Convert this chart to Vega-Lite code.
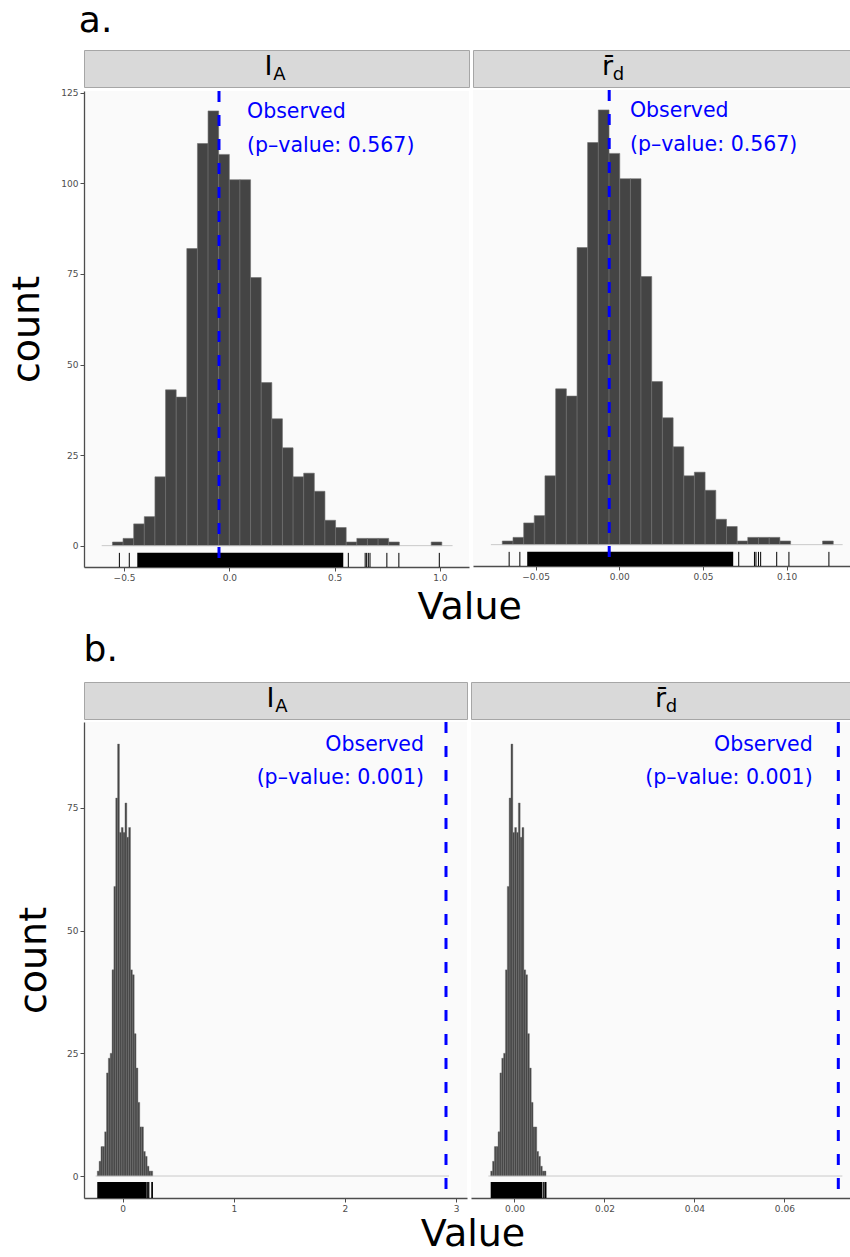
{
  "$schema": "https://vega.github.io/schema/vega-lite/v6.json",
  "background": "white",
  "padding": {"left": 8, "top": 2, "right": 0, "bottom": 0},
  "config": {
    "font": "DejaVu Sans",
    "view": {"fill": "#FAFAFA", "stroke": null},
    "axis": {"labelFontSize": 9, "labelColor": "#4D4D4D", "tickColor": "#4D4D4D", "domainColor": "#4D4D4D", "domainWidth": 1.3, "tickSize": 4, "tickWidth": 1, "grid": false, "titleFontWeight": "normal", "titleFontSize": 38, "titleColor": "black", "labelPadding": 2},
    "title": {"fontWeight": "normal", "color": "black"}
  },
  "datasets": {
    "one": [{}],
    "a_ia_hist": [
      {"x0": -0.555, "x1": -0.5046, "n": 1}, {"x0": -0.5046, "x1": -0.4541, "n": 2}, {"x0": -0.4541, "x1": -0.4037, "n": 6},
      {"x0": -0.4037, "x1": -0.3532, "n": 8}, {"x0": -0.3532, "x1": -0.3028, "n": 19}, {"x0": -0.3028, "x1": -0.2523, "n": 43},
      {"x0": -0.2523, "x1": -0.2019, "n": 41}, {"x0": -0.2019, "x1": -0.1514, "n": 82}, {"x0": -0.1514, "x1": -0.101, "n": 111},
      {"x0": -0.101, "x1": -0.0505, "n": 120}, {"x0": -0.0505, "x1": 0.0, "n": 108}, {"x0": 0.0, "x1": 0.0504, "n": 101},
      {"x0": 0.0504, "x1": 0.1009, "n": 101}, {"x0": 0.1009, "x1": 0.1513, "n": 74}, {"x0": 0.1513, "x1": 0.2018, "n": 45},
      {"x0": 0.2018, "x1": 0.2522, "n": 35}, {"x0": 0.2522, "x1": 0.3027, "n": 27}, {"x0": 0.3027, "x1": 0.3531, "n": 19},
      {"x0": 0.3531, "x1": 0.4036, "n": 20}, {"x0": 0.4036, "x1": 0.454, "n": 15}, {"x0": 0.454, "x1": 0.5045, "n": 7},
      {"x0": 0.5045, "x1": 0.5549, "n": 5}, {"x0": 0.5549, "x1": 0.6054, "n": 1}, {"x0": 0.6054, "x1": 0.6558, "n": 2},
      {"x0": 0.6558, "x1": 0.7063, "n": 2}, {"x0": 0.7063, "x1": 0.7567, "n": 2}, {"x0": 0.7567, "x1": 0.8072, "n": 1},
      {"x0": 0.9585, "x1": 1.009, "n": 1}
    ],
    "a_rd_hist": [
      {"x0": -0.0699, "x1": -0.0635, "n": 1}, {"x0": -0.0635, "x1": -0.0571, "n": 2}, {"x0": -0.0571, "x1": -0.0508, "n": 6},
      {"x0": -0.0508, "x1": -0.0444, "n": 8}, {"x0": -0.0444, "x1": -0.038, "n": 19}, {"x0": -0.038, "x1": -0.0316, "n": 43},
      {"x0": -0.0316, "x1": -0.0252, "n": 41}, {"x0": -0.0252, "x1": -0.0189, "n": 82}, {"x0": -0.0189, "x1": -0.0125, "n": 111},
      {"x0": -0.0125, "x1": -0.0061, "n": 120}, {"x0": -0.0061, "x1": 0.0003, "n": 108}, {"x0": 0.0003, "x1": 0.0067, "n": 101},
      {"x0": 0.0067, "x1": 0.013, "n": 101}, {"x0": 0.013, "x1": 0.0194, "n": 74}, {"x0": 0.0194, "x1": 0.0258, "n": 45},
      {"x0": 0.0258, "x1": 0.0322, "n": 35}, {"x0": 0.0322, "x1": 0.0386, "n": 27}, {"x0": 0.0386, "x1": 0.0449, "n": 19},
      {"x0": 0.0449, "x1": 0.0513, "n": 20}, {"x0": 0.0513, "x1": 0.0577, "n": 15}, {"x0": 0.0577, "x1": 0.0641, "n": 7},
      {"x0": 0.0641, "x1": 0.0705, "n": 5}, {"x0": 0.0705, "x1": 0.0768, "n": 1}, {"x0": 0.0768, "x1": 0.0832, "n": 2},
      {"x0": 0.0832, "x1": 0.0896, "n": 2}, {"x0": 0.0896, "x1": 0.096, "n": 2}, {"x0": 0.096, "x1": 0.1024, "n": 1},
      {"x0": 0.1215, "x1": 0.1279, "n": 1}
    ],
    "b_ia_hist": [
      {"x0": -0.2286, "x1": -0.212, "n": 1}, {"x0": -0.212, "x1": -0.1954, "n": 3}, {"x0": -0.1954, "x1": -0.1787, "n": 6},
      {"x0": -0.1787, "x1": -0.1621, "n": 6}, {"x0": -0.1621, "x1": -0.1455, "n": 9}, {"x0": -0.1455, "x1": -0.1289, "n": 21},
      {"x0": -0.1289, "x1": -0.1122, "n": 24}, {"x0": -0.1122, "x1": -0.0956, "n": 25}, {"x0": -0.0956, "x1": -0.079, "n": 42},
      {"x0": -0.079, "x1": -0.0624, "n": 59}, {"x0": -0.0624, "x1": -0.0457, "n": 77}, {"x0": -0.0457, "x1": -0.0291, "n": 88},
      {"x0": -0.0291, "x1": -0.0125, "n": 70}, {"x0": -0.0125, "x1": 0.0042, "n": 71}, {"x0": 0.0042, "x1": 0.0208, "n": 70},
      {"x0": 0.0208, "x1": 0.0374, "n": 76}, {"x0": 0.0374, "x1": 0.054, "n": 69}, {"x0": 0.054, "x1": 0.0707, "n": 71},
      {"x0": 0.0707, "x1": 0.0873, "n": 42}, {"x0": 0.0873, "x1": 0.1039, "n": 41}, {"x0": 0.1039, "x1": 0.1205, "n": 29},
      {"x0": 0.1205, "x1": 0.1372, "n": 22}, {"x0": 0.1372, "x1": 0.1538, "n": 15}, {"x0": 0.1538, "x1": 0.1704, "n": 10},
      {"x0": 0.1704, "x1": 0.187, "n": 10}, {"x0": 0.187, "x1": 0.2037, "n": 5}, {"x0": 0.2037, "x1": 0.2203, "n": 4},
      {"x0": 0.2203, "x1": 0.2369, "n": 2}, {"x0": 0.2369, "x1": 0.2535, "n": 1}, {"x0": 0.2535, "x1": 0.2702, "n": 1}
    ],
    "b_rd_hist": [
      {"x0": -0.00529, "x1": -0.00488, "n": 1}, {"x0": -0.00488, "x1": -0.00447, "n": 3}, {"x0": -0.00447, "x1": -0.00406, "n": 6},
      {"x0": -0.00406, "x1": -0.00365, "n": 6}, {"x0": -0.00365, "x1": -0.00324, "n": 9}, {"x0": -0.00324, "x1": -0.00283, "n": 21},
      {"x0": -0.00283, "x1": -0.00242, "n": 24}, {"x0": -0.00242, "x1": -0.00201, "n": 25}, {"x0": -0.00201, "x1": -0.0016, "n": 42},
      {"x0": -0.0016, "x1": -0.00119, "n": 59}, {"x0": -0.00119, "x1": -0.00078, "n": 77}, {"x0": -0.00078, "x1": -0.00037, "n": 88},
      {"x0": -0.00037, "x1": 0.00004, "n": 70}, {"x0": 0.00004, "x1": 0.00045, "n": 71}, {"x0": 0.00045, "x1": 0.00086, "n": 70},
      {"x0": 0.00086, "x1": 0.00126, "n": 76}, {"x0": 0.00126, "x1": 0.00167, "n": 69}, {"x0": 0.00167, "x1": 0.00208, "n": 71},
      {"x0": 0.00208, "x1": 0.00249, "n": 42}, {"x0": 0.00249, "x1": 0.0029, "n": 41}, {"x0": 0.0029, "x1": 0.00331, "n": 29},
      {"x0": 0.00331, "x1": 0.00372, "n": 22}, {"x0": 0.00372, "x1": 0.00413, "n": 15}, {"x0": 0.00413, "x1": 0.00454, "n": 10},
      {"x0": 0.00454, "x1": 0.00495, "n": 10}, {"x0": 0.00495, "x1": 0.00536, "n": 5}, {"x0": 0.00536, "x1": 0.00577, "n": 4},
      {"x0": 0.00577, "x1": 0.00618, "n": 2}, {"x0": 0.00618, "x1": 0.00659, "n": 1}, {"x0": 0.00659, "x1": 0.007, "n": 1}
    ],
    "a_ia_rug": [{"v": -0.522}, {"v": -0.475}, {"v": 0.565}, {"v": 0.645}, {"v": 0.652}, {"v": 0.66}, {"v": 0.668}, {"v": 0.748}, {"v": 0.805}, {"v": 0.997}],
    "a_ia_band": [{"lo": -0.437, "hi": 0.541}],
    "a_rd_rug": [{"v": -0.0658}, {"v": -0.0594}, {"v": 0.0714}, {"v": 0.0808}, {"v": 0.0817}, {"v": 0.0832}, {"v": 0.0845}, {"v": 0.0941}, {"v": 0.1014}, {"v": 0.1253}],
    "a_rd_band": [{"lo": -0.055, "hi": 0.0681}],
    "b_ia_rug": [{"v": 0.222}, {"v": 0.23}, {"v": 0.236}, {"v": 0.262}, {"v": 0.268}],
    "b_ia_band": [{"lo": -0.2286, "hi": 0.216}],
    "b_rd_rug": [{"v": 0.0064}, {"v": 0.0066}, {"v": 0.0069}, {"v": 0.007}],
    "b_rd_band": [{"lo": -0.00529, "hi": 0.00618}]
  },
  "columns": 1,
  "align": "none",
  "spacing": 4,
  "concat": [
    {
      "title": {"text": "a.", "anchor": "start", "fontSize": 36, "dx": 70, "offset": 10},
      "vconcat": [
        {
          "title": {"text": "Value", "orient": "bottom", "anchor": "middle", "fontSize": 38, "offset": 7, "dx": 40},
          "spacing": 2,
          "hconcat": [
            {
              "spacing": 0,
              "vconcat": [
                {
                  "width": 385, "height": 37,
                  "view": {"fill": "#D9D9D9", "stroke": "#A6A6A6"},
                  "data": {"values": [{"main": "I", "sub": "A"}]},
                  "layer": [
                    {"mark": {"type": "text", "fontSize": 27, "baseline": "middle", "dx": -8, "dy": -2}, "encoding": {"text": {"field": "main"}}},
                    {"mark": {"type": "text", "fontSize": 18, "baseline": "middle", "dx": 3, "dy": 6}, "encoding": {"text": {"field": "sub"}}}
                  ]
                },
                {
                  "width": 385, "height": 476,
                  "layer": [
                    {
                      "data": {"name": "a_ia_hist"},
                      "mark": {"type": "rect", "fill": "#444444", "stroke": "#6E6E6E", "strokeWidth": 0.6},
                      "encoding": {
                        "x": {"field": "x0", "type": "quantitative", "scale": {"domain": [-0.69, 1.138], "nice": false, "zero": false}, "axis": {"values": [-0.5, 0, 0.5, 1], "format": ".1f", "title": null}},
                        "x2": {"field": "x1"},
                        "y": {"field": "n", "type": "quantitative", "scale": {"domain": [-5.9, 125.5], "nice": false, "zero": false}, "axis": {"values": [0, 25, 50, 75, 100, 125], "title": "count", "titlePadding": 14}},
                        "y2": {"datum": 0}
                      }
                    },
                    {"data": {"name": "one"}, "mark": {"type": "rule", "color": "#BDBDBD", "strokeWidth": 0.8}, "encoding": {"x": {"datum": -0.606}, "x2": {"datum": 1.06}, "y": {"datum": 0}}},
                    {"data": {"name": "a_ia_band"}, "mark": {"type": "rect", "color": "black"}, "encoding": {"x": {"field": "lo", "type": "quantitative"}, "x2": {"field": "hi"}, "y": {"datum": -5.9}, "y2": {"datum": -2.0}}},
                    {"data": {"name": "a_ia_rug"}, "mark": {"type": "rule", "color": "black", "strokeWidth": 1}, "encoding": {"x": {"field": "v", "type": "quantitative"}, "y": {"datum": -5.9}, "y2": {"datum": -2.0}}},
                    {"data": {"name": "one"}, "mark": {"type": "rule", "color": "#0000FF", "strokeWidth": 3, "strokeDash": [11, 13]}, "encoding": {"x": {"datum": -0.049}}},
                    {"data": {"name": "one"}, "mark": {"type": "text", "color": "#0000FF", "fontSize": 20.5, "align": "left", "baseline": "middle"}, "encoding": {"x": {"datum": 0.084}, "y": {"datum": 119.8}, "text": {"value": "Observed"}}},
                    {"data": {"name": "one"}, "mark": {"type": "text", "color": "#0000FF", "fontSize": 20.5, "align": "left", "baseline": "middle"}, "encoding": {"x": {"datum": 0.084}, "y": {"datum": 110.4}, "text": {"value": "(p–value: 0.567)"}}}
                  ]
                }
              ]
            },
            {
              "spacing": 0,
              "vconcat": [
                {
                  "width": 377, "height": 37,
                  "view": {"fill": "#D9D9D9", "stroke": "#A6A6A6"},
                  "data": {"values": [{"main": "r̄", "sub": "d"}]},
                  "layer": [
                    {"mark": {"type": "text", "fontSize": 27, "baseline": "middle", "dx": -54, "dy": -2}, "encoding": {"text": {"field": "main"}}},
                    {"mark": {"type": "text", "fontSize": 18, "baseline": "middle", "dx": -43, "dy": 6}, "encoding": {"text": {"field": "sub"}}}
                  ]
                },
                {
                  "width": 377, "height": 476,
                  "layer": [
                    {
                      "data": {"name": "a_rd_hist"},
                      "mark": {"type": "rect", "fill": "#444444", "stroke": "#6E6E6E", "strokeWidth": 0.6},
                      "encoding": {
                        "x": {"field": "x0", "type": "quantitative", "scale": {"domain": [-0.0874, 0.1379], "nice": false, "zero": false}, "axis": {"values": [-0.05, 0, 0.05, 0.1], "format": ".2f", "title": null}},
                        "x2": {"field": "x1"},
                        "y": {"field": "n", "type": "quantitative", "scale": {"domain": [-5.9, 125.5], "nice": false, "zero": false}, "axis": {"title": null, "labels": false, "ticks": false, "domain": false}},
                        "y2": {"datum": 0}
                      }
                    },
                    {"data": {"name": "one"}, "mark": {"type": "rule", "color": "#BDBDBD", "strokeWidth": 0.8}, "encoding": {"x": {"datum": -0.0767}, "x2": {"datum": 0.1335}, "y": {"datum": 0}}},
                    {"data": {"name": "a_rd_band"}, "mark": {"type": "rect", "color": "black"}, "encoding": {"x": {"field": "lo", "type": "quantitative"}, "x2": {"field": "hi"}, "y": {"datum": -5.9}, "y2": {"datum": -2.0}}},
                    {"data": {"name": "a_rd_rug"}, "mark": {"type": "rule", "color": "black", "strokeWidth": 1}, "encoding": {"x": {"field": "v", "type": "quantitative"}, "y": {"datum": -5.9}, "y2": {"datum": -2.0}}},
                    {"data": {"name": "one"}, "mark": {"type": "rule", "color": "#0000FF", "strokeWidth": 3, "strokeDash": [11, 13]}, "encoding": {"x": {"datum": -0.006}}},
                    {"data": {"name": "one"}, "mark": {"type": "text", "color": "#0000FF", "fontSize": 20.5, "align": "left", "baseline": "middle"}, "encoding": {"x": {"datum": 0.0064}, "y": {"datum": 119.8}, "text": {"value": "Observed"}}},
                    {"data": {"name": "one"}, "mark": {"type": "text", "color": "#0000FF", "fontSize": 20.5, "align": "left", "baseline": "middle"}, "encoding": {"x": {"datum": 0.0064}, "y": {"datum": 110.4}, "text": {"value": "(p–value: 0.567)"}}}
                  ]
                }
              ]
            }
          ]
        }
      ]
    },
    {
      "title": {"text": "b.", "anchor": "start", "fontSize": 36, "dx": 68, "offset": 13},
      "vconcat": [
        {
          "title": {"text": "Value", "orient": "bottom", "anchor": "middle", "fontSize": 38, "offset": 3, "dx": 40},
          "spacing": 2,
          "hconcat": [
            {
              "spacing": 0,
              "vconcat": [
                {
                  "width": 383, "height": 37,
                  "view": {"fill": "#D9D9D9", "stroke": "#A6A6A6"},
                  "data": {"values": [{"main": "I", "sub": "A"}]},
                  "layer": [
                    {"mark": {"type": "text", "fontSize": 27, "baseline": "middle", "dx": -5, "dy": -2}, "encoding": {"text": {"field": "main"}}},
                    {"mark": {"type": "text", "fontSize": 18, "baseline": "middle", "dx": 6, "dy": 6}, "encoding": {"text": {"field": "sub"}}}
                  ]
                },
                {
                  "width": 383, "height": 476,
                  "layer": [
                    {
                      "data": {"name": "b_ia_hist"},
                      "mark": {"type": "rect", "fill": "#444444", "stroke": "#6E6E6E", "strokeWidth": 0.4},
                      "encoding": {
                        "x": {"field": "x0", "type": "quantitative", "scale": {"domain": [-0.348, 3.099], "nice": false, "zero": false}, "axis": {"values": [0, 1, 2, 3], "format": "d", "title": null}},
                        "x2": {"field": "x1"},
                        "y": {"field": "n", "type": "quantitative", "scale": {"domain": [-4.48, 92.5], "nice": false, "zero": false}, "axis": {"values": [0, 25, 50, 75], "title": "count", "titlePadding": 13}},
                        "y2": {"datum": 0}
                      }
                    },
                    {"data": {"name": "one"}, "mark": {"type": "rule", "color": "#BDBDBD", "strokeWidth": 0.8}, "encoding": {"x": {"datum": -0.243}, "x2": {"datum": 2.937}, "y": {"datum": 0}}},
                    {"data": {"name": "b_ia_band"}, "mark": {"type": "rect", "color": "black"}, "encoding": {"x": {"field": "lo", "type": "quantitative"}, "x2": {"field": "hi"}, "y": {"datum": -4.48}, "y2": {"datum": -1.22}}},
                    {"data": {"name": "b_ia_rug"}, "mark": {"type": "rule", "color": "black", "strokeWidth": 1}, "encoding": {"x": {"field": "v", "type": "quantitative"}, "y": {"datum": -4.48}, "y2": {"datum": -1.22}}},
                    {"data": {"name": "one"}, "mark": {"type": "rule", "color": "#0000FF", "strokeWidth": 3, "strokeDash": [11, 13]}, "encoding": {"x": {"datum": 2.91}}},
                    {"data": {"name": "one"}, "mark": {"type": "text", "color": "#0000FF", "fontSize": 20.5, "align": "right", "baseline": "middle"}, "encoding": {"x": {"datum": 2.712}, "y": {"datum": 87.8}, "text": {"value": "Observed"}}},
                    {"data": {"name": "one"}, "mark": {"type": "text", "color": "#0000FF", "fontSize": 20.5, "align": "right", "baseline": "middle"}, "encoding": {"x": {"datum": 2.712}, "y": {"datum": 81.1}, "text": {"value": "(p–value: 0.001)"}}}
                  ]
                }
              ]
            },
            {
              "spacing": 0,
              "vconcat": [
                {
                  "width": 379, "height": 37,
                  "view": {"fill": "#D9D9D9", "stroke": "#A6A6A6"},
                  "data": {"values": [{"main": "r̄", "sub": "d"}]},
                  "layer": [
                    {"mark": {"type": "text", "fontSize": 27, "baseline": "middle", "dx": 0, "dy": -2}, "encoding": {"text": {"field": "main"}}},
                    {"mark": {"type": "text", "fontSize": 18, "baseline": "middle", "dx": 11, "dy": 6}, "encoding": {"text": {"field": "sub"}}}
                  ]
                },
                {
                  "width": 379, "height": 476,
                  "layer": [
                    {
                      "data": {"name": "b_rd_hist"},
                      "mark": {"type": "rect", "fill": "#444444", "stroke": "#6E6E6E", "strokeWidth": 0.4},
                      "encoding": {
                        "x": {"field": "x0", "type": "quantitative", "scale": {"domain": [-0.00967, 0.0746], "nice": false, "zero": false}, "axis": {"values": [0, 0.02, 0.04, 0.06], "format": ".2f", "title": null}},
                        "x2": {"field": "x1"},
                        "y": {"field": "n", "type": "quantitative", "scale": {"domain": [-4.48, 92.5], "nice": false, "zero": false}, "axis": {"title": null, "labels": false, "ticks": false, "domain": false}},
                        "y2": {"datum": 0}
                      }
                    },
                    {"data": {"name": "one"}, "mark": {"type": "rule", "color": "#BDBDBD", "strokeWidth": 0.8}, "encoding": {"x": {"datum": -0.00582}, "x2": {"datum": 0.0729}, "y": {"datum": 0}}},
                    {"data": {"name": "b_rd_band"}, "mark": {"type": "rect", "color": "black"}, "encoding": {"x": {"field": "lo", "type": "quantitative"}, "x2": {"field": "hi"}, "y": {"datum": -4.48}, "y2": {"datum": -1.22}}},
                    {"data": {"name": "b_rd_rug"}, "mark": {"type": "rule", "color": "black", "strokeWidth": 1}, "encoding": {"x": {"field": "v", "type": "quantitative"}, "y": {"datum": -4.48}, "y2": {"datum": -1.22}}},
                    {"data": {"name": "one"}, "mark": {"type": "rule", "color": "#0000FF", "strokeWidth": 3, "strokeDash": [11, 13]}, "encoding": {"x": {"datum": 0.072}}},
                    {"data": {"name": "one"}, "mark": {"type": "text", "color": "#0000FF", "fontSize": 20.5, "align": "right", "baseline": "middle"}, "encoding": {"x": {"datum": 0.0663}, "y": {"datum": 87.8}, "text": {"value": "Observed"}}},
                    {"data": {"name": "one"}, "mark": {"type": "text", "color": "#0000FF", "fontSize": 20.5, "align": "right", "baseline": "middle"}, "encoding": {"x": {"datum": 0.0663}, "y": {"datum": 81.1}, "text": {"value": "(p–value: 0.001)"}}}
                  ]
                }
              ]
            }
          ]
        }
      ]
    }
  ]
}
